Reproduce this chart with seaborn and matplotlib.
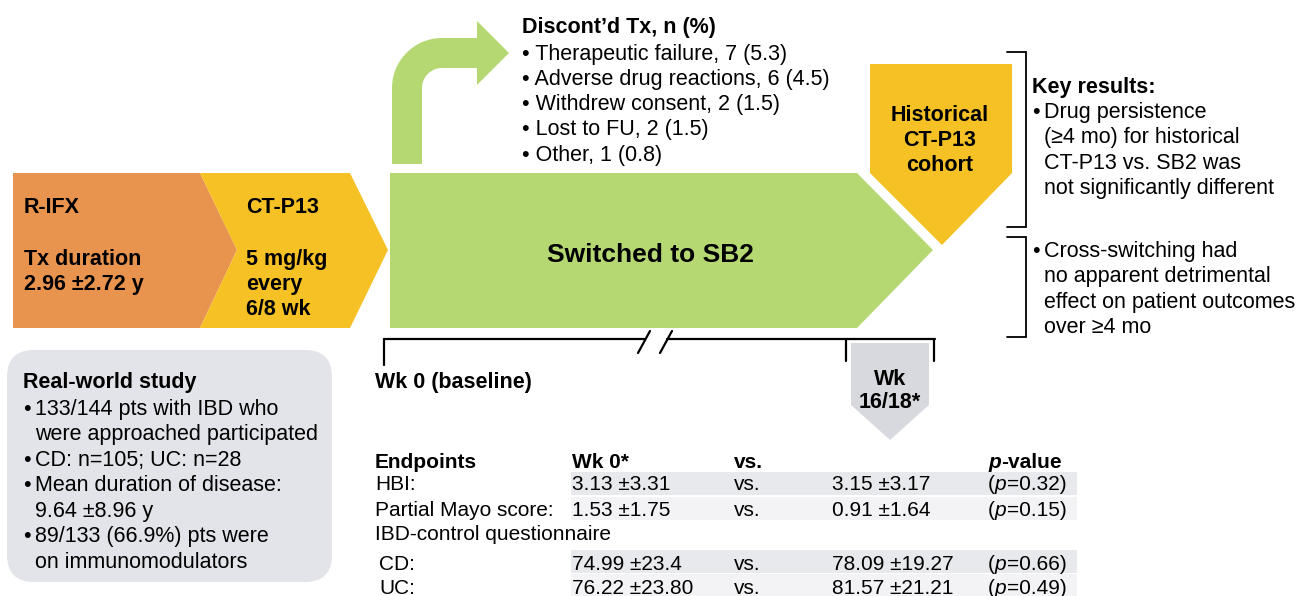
import numpy as np
import matplotlib
matplotlib.use("Agg")
import matplotlib.pyplot as plt
import seaborn as sns
from matplotlib.patches import Polygon, FancyBboxPatch

# Данные инфографики
prior_tx = ["R-IFX", "Tx duration", "2.96 \u00b12.72 y"]
ctp13_tx = ["CT-P13", "5 mg/kg", "every", "6/8 wk"]
switched_label = "Switched to SB2"
historical_label = ["Historical", "CT-P13", "cohort"]

discont_title = "Discont\u2019d Tx, n (%)"
discont_reasons = ["Therapeutic failure", "Adverse drug reactions", "Withdrew consent",
                   "Lost to FU", "Other"]
discont_n = [7, 6, 2, 2, 1]
discont_pct = [5.3, 4.5, 1.5, 1.5, 0.8]

study_title = "Real-world study"
study_bullets = [
    ["133/144 pts with IBD who", "were approached participated"],
    ["CD: n=105; UC: n=28"],
    ["Mean duration of disease:", "9.64 \u00b18.96 y"],
    ["89/133 (66.9%) pts were", "on immunomodulators"],
]

key_title = "Key results:"
key_bullets = [
    ["Drug persistence", "(\u22654 mo) for historical", "CT-P13 vs. SB2 was",
     "not significantly different"],
    ["Cross-switching had", "no apparent detrimental", "effect on patient outcomes",
     "over \u22654 mo"],
]

wk0_label = "Wk 0 (baseline)"
wk16_label = ["Wk", "16/18*"]

endpoints = ["HBI:", "Partial Mayo score:", "IBD-control questionnaire", "CD:", "UC:"]
wk0_vals = ["3.13 \u00b13.31", "1.53 \u00b11.75", None, "74.99 \u00b123.4", "76.22 \u00b123.80"]
wk16_vals = ["3.15 \u00b13.17", "0.91 \u00b11.64", None, "78.09 \u00b119.27", "81.57 \u00b121.21"]
p_vals = ["0.32", "0.15", None, "0.66", "0.49"]

# Цвета
ORANGE = "#E9944E"
YELLOW = "#F5C124"
GREEN = "#B6D873"
GRAY_BOX = "#E3E4E9"
GRAY_ARROW = "#D8D9DE"
BAND_DARK = "#E8E9EC"
BAND_LIGHT = "#F3F3F5"

sns.set_theme(style="white")
plt.rcParams['font.family'] = ['Liberation Sans', 'DejaVu Sans']

W, H = 1299, 596
fig = plt.figure(figsize=(W / 100, H / 100), dpi=100)
ax = fig.add_axes([0, 0, 1, 1])
ax.set_xlim(0, W)
ax.set_ylim(H, 0)
ax.axis('off')

FS = 15.5


def txt(x, yc, s, size=FS, bold=False, ha='left', style='normal', color='black'):
    # yc - визуальный центр строки (по заглавным), ставим по базовой линии
    base = yc + 0.36 * size * 100 / 72
    return ax.text(x, base, s, fontsize=size, fontweight='bold' if bold else 'normal',
                   ha=ha, va='baseline', fontstyle=style, color=color)


def runs(x, yc, parts, size=FS):
    # последовательный вывод кусков текста с разным начертанием
    renderer = fig.canvas.get_renderer()
    for s, bold, style in parts:
        t = txt(x, yc, s, size=size, bold=bold, style=style)
        bb = t.get_window_extent(renderer=renderer)
        x += bb.width


# Фигуры: R-IFX, CT-P13, SB2
ax.add_patch(Polygon([(13, 173), (200, 173), (237, 250), (200, 328), (13, 328)],
                     closed=True, fc=ORANGE, ec='none'))
ax.add_patch(Polygon([(200, 173), (350, 173), (388, 250), (350, 328), (200, 328), (237, 250)],
                     closed=True, fc=YELLOW, ec='none'))
ax.add_patch(Polygon([(390, 173), (857, 173), (933, 250), (857, 328), (390, 328)],
                     closed=True, fc=GREEN, ec='none'))
ax.add_patch(Polygon([(870, 64), (1012, 64), (1012, 173), (942, 245), (870, 173)],
                     closed=True, fc=YELLOW, ec='none'))

# Изогнутая стрелка вверх
cx, cy = 442, 88
th = np.linspace(np.pi, np.pi / 2, 30)
outer = [(cx + 50 * np.cos(a), cy - 50 * np.sin(a)) for a in th]
inner = [(cx + 20 * np.cos(a), cy - 20 * np.sin(a)) for a in th[::-1]]
pts = [(392, 164)] + outer + [(477, 38), (477, 21), (509, 53), (477, 85), (477, 68)] \
      + inner + [(422, 164)]
ax.add_patch(Polygon(pts, closed=True, fc=GREEN, ec='none'))

# Тексты в фигурах
txt(24, 205, prior_tx[0], bold=True)
txt(24, 257, prior_tx[1], bold=True)
txt(24, 282, prior_tx[2], bold=True)
txt(246, 205, ctp13_tx[0], bold=True)
for i, s in enumerate(ctp13_tx[1:]):
    txt(246, 257 + 25 * i, s, bold=True)
txt(650, 252, switched_label, size=19, bold=True, ha='center')
for i, s in enumerate(historical_label):
    txt(940, 113 + 25 * i, s, bold=True, ha='center')

# Прекращение терапии
txt(522, 25, discont_title, bold=True)
for i, (r, n, p) in enumerate(zip(discont_reasons, discont_n, discont_pct)):
    txt(522, 52 + 25.2 * i, f"\u2022 {r}, {n} ({p})")

# Скобки и ключевые результаты
for y0, y1 in [(52, 227), (237, 337)]:
    ax.plot([1007, 1026, 1026, 1007], [y0, y0, y1, y1], color='black', lw=1.3,
            solid_joinstyle='miter')
txt(1032, 85, key_title, bold=True)
y = 110
for j, lines in enumerate(key_bullets):
    if j == 1:
        y = 249
    for k, s in enumerate(lines):
        if k == 0:
            txt(1032, y, "\u2022")
        txt(1044, y, s)
        y += 25.5

# Блок исследования
ax.add_patch(FancyBboxPatch((7, 350), 325, 232, boxstyle="round,pad=0,rounding_size=27",
                            fc=GRAY_BOX, ec='none'))
txt(23, 380, study_title, bold=True)
y = 407
for lines in study_bullets:
    for k, s in enumerate(lines):
        if k == 0:
            txt(23, y, "\u2022")
        txt(35, y, s)
        y += 25.5

# Временная шкала
LW = 1.6
ax.plot([384, 645], [339, 339], color='black', lw=LW)
ax.plot([667, 935], [339, 339], color='black', lw=LW)
ax.plot([638, 650], [353, 331], color='black', lw=LW)
ax.plot([660, 672], [353, 331], color='black', lw=LW)
ax.plot([384, 384], [339, 365], color='black', lw=LW)
ax.plot([846, 846], [339, 361], color='black', lw=LW)
ax.plot([934, 934], [339, 361], color='black', lw=LW)
ax.add_patch(Polygon([(851, 343), (929, 343), (929, 405), (890, 440), (851, 405)],
                     closed=True, fc=GRAY_ARROW, ec='none'))
txt(375, 380, wk0_label, bold=True)
txt(890, 377, wk16_label[0], bold=True, ha='center')
txt(890, 400, wk16_label[1], bold=True, ha='center')

# Таблица конечных точек
TFS = 15
row_y = [483, 508, 533, 562, 587]
bands = {0: (472, 495, BAND_DARK), 1: (497, 520, BAND_LIGHT),
         3: (550, 573, BAND_DARK), 4: (574, 596, BAND_LIGHT)}
for i, (y0, y1, c) in bands.items():
    ax.fill_between([571, 1077], y0, y1, color=c, lw=0)

txt(375, 460, "Endpoints", size=TFS, bold=True)
txt(572, 460, "Wk 0*", size=TFS, bold=True)
txt(734, 460, "vs.", size=TFS, bold=True)
runs(988, 460, [("p", True, 'italic'), ("-value", True, 'normal')], size=TFS)

for i, name in enumerate(endpoints):
    x_lab = 379 if name in ("CD:", "UC:") else 375
    txt(x_lab, row_y[i], name, size=TFS)
    if wk0_vals[i] is None:
        continue
    txt(572, row_y[i], wk0_vals[i], size=TFS)
    txt(734, row_y[i], "vs.", size=TFS)
    txt(832, row_y[i], wk16_vals[i], size=TFS)
    runs(988, row_y[i], [("(", False, 'normal'), ("p", False, 'italic'),
                         (f"={p_vals[i]})", False, 'normal')], size=TFS)

fig.savefig("out.png", dpi=100)
